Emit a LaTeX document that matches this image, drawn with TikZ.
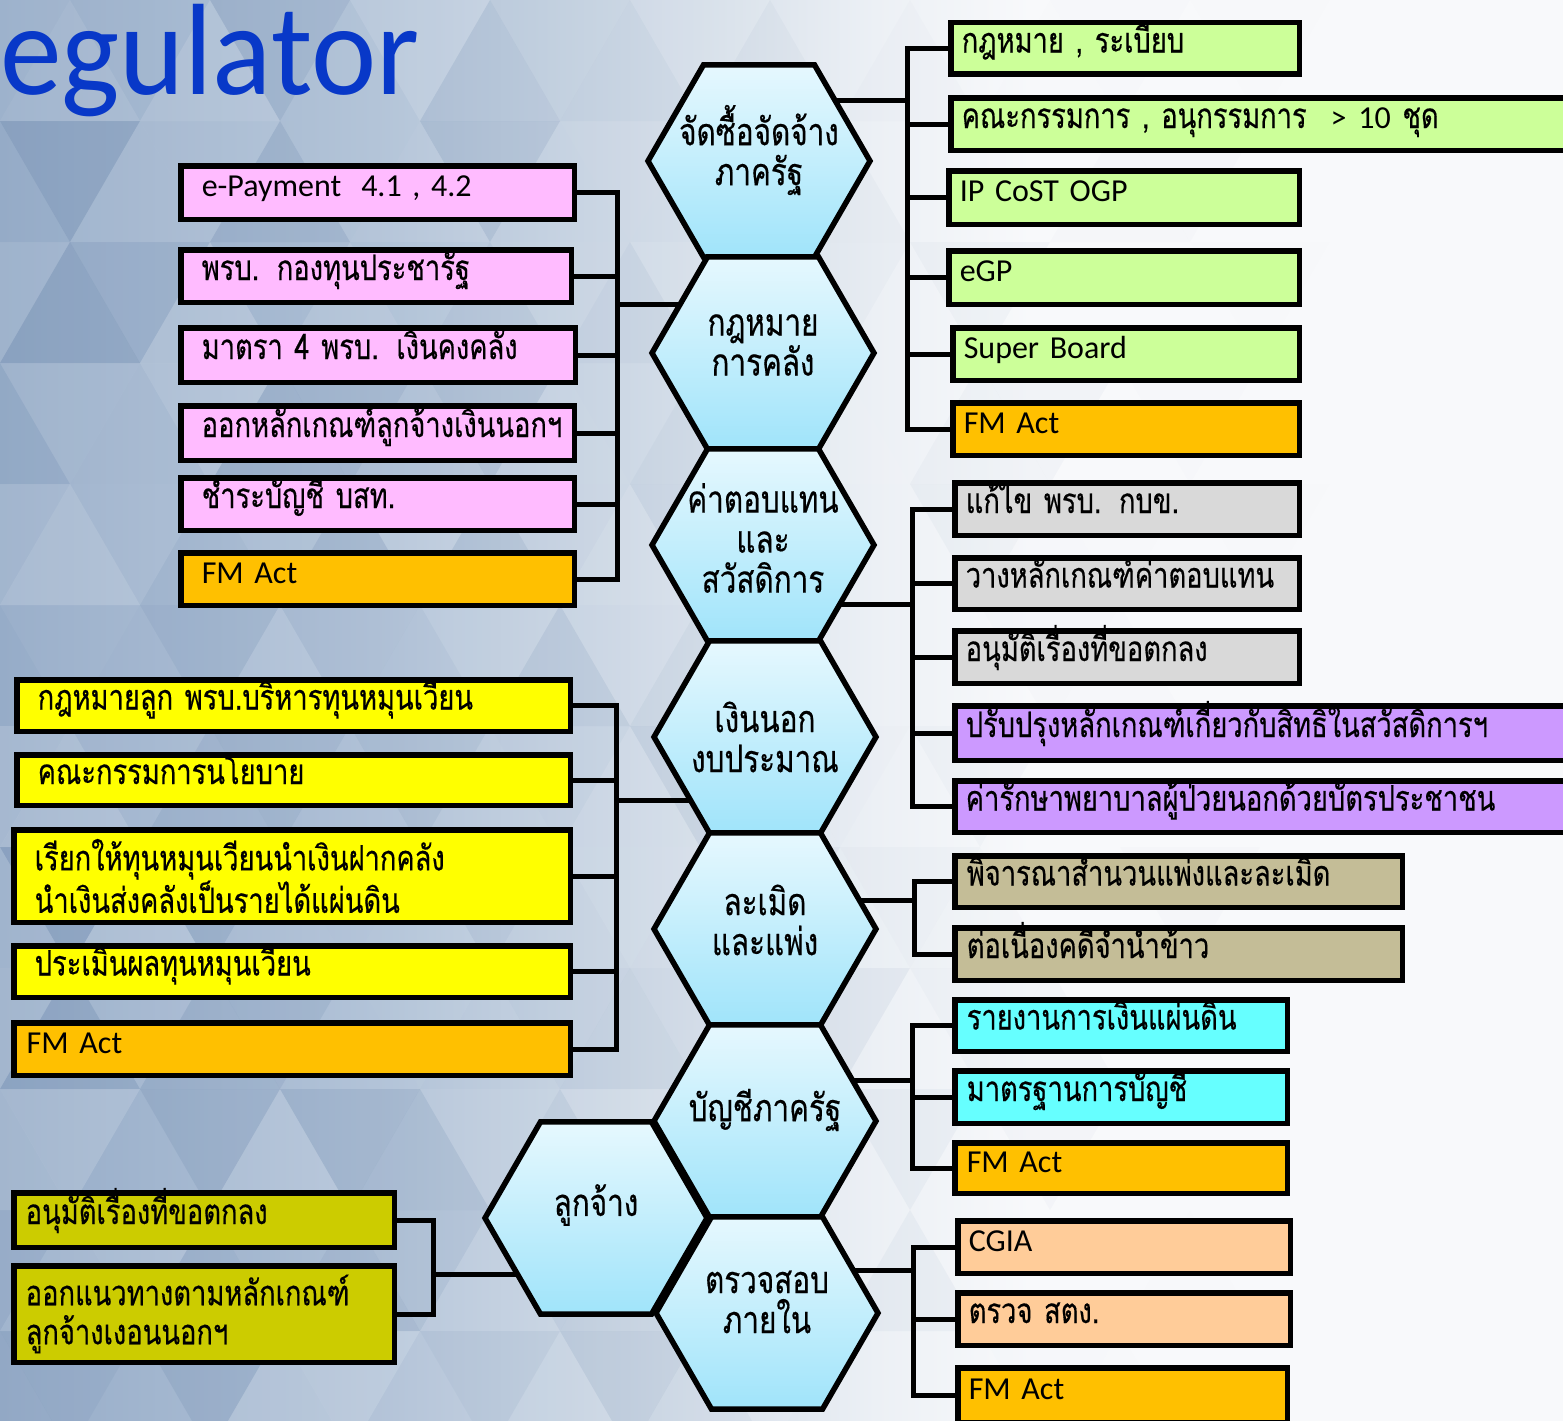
\documentclass[tikz,border=0pt]{standalone}
\usepackage{fontspec}
\setmainfont{Loma}[Script=Thai, FakeStretch=0.78, FakeBold=0.4]
\newfontfamily\latin{Carlito}
\newfontfamily\titlefont{Carlito}[FakeStretch=0.95]
\usetikzlibrary{shapes.geometric}

\definecolor{titleblue}{RGB}{8,56,200}
\definecolor{hextop}{RGB}{230,248,254}
\definecolor{hexbot}{RGB}{160,228,250}
\definecolor{cpink}{RGB}{255,187,255}
\definecolor{cgreen}{RGB}{204,255,153}
\definecolor{corange}{RGB}{255,192,0}
\definecolor{cgrey}{RGB}{217,217,217}
\definecolor{cpurple}{RGB}{204,153,255}
\definecolor{ctan}{RGB}{196,189,151}
\definecolor{ccyan}{RGB}{102,255,255}
\definecolor{cpeach}{RGB}{255,204,153}
\definecolor{cyellow}{RGB}{255,255,0}
\definecolor{colive}{RGB}{204,204,0}
\definecolor{bgA}{RGB}{150,172,200}
\definecolor{bgB}{RGB}{178,195,216}
\definecolor{bgC}{RGB}{205,216,229}
\definecolor{bgD}{RGB}{236,240,245}
\definecolor{bgW}{RGB}{248,249,251}
\definecolor{bgdark}{RGB}{90,120,160}

\pgfdeclarehorizontalshading{backdrop}{100bp}{color(0bp)=(bgA); color(25bp)=(bgA); color(37bp)=(bgB); color(45bp)=(bgC); color(53bp)=(bgD); color(58bp)=(bgW); color(100bp)=(bgW)}

\pgfdeclarelayer{backdrop}
\pgfdeclarelayer{wires}
\pgfsetlayers{backdrop,wires,main}

\newcommand\thaibox{\fontsize{35}{39}\selectfont}
\newcommand\latbox{\latin\fontsize{32}{38}\selectfont}
\newcommand\hexlab{\fontsize{38}{40}\selectfont}

% box: style, name, fill, text inset, x1, y1, x2, y2 (outer edges, px), text
\newcommand\tbox[9]{%
  \node[#1, fill=#3, inner xsep=#4pt,
        minimum width={(#7-#5-5.5)*1pt}, minimum height={(#8-#6-5.5)*1pt},
        text width={(#7-#5-5.5-2*#4)*1pt}] (#2) at ({(#5+#7)/2},{(#6+#8)/2}) {#9};}

\tikzset{
  tb/.style={rectangle, draw=black, line width=5.5pt, inner ysep=0pt,
             align=left, font=\thaibox, text height=22pt, text depth=14pt},
  tbl/.style={tb, font=\latbox},
  tbm/.style={rectangle, draw=black, line width=5.5pt, inner ysep=0pt,
              align=left, font=\thaibox},
  hexa/.style={regular polygon, regular polygon sides=6, minimum size=222pt, inner sep=0pt,
               draw=black, line width=5.5pt, top color=hextop, bottom color=hexbot},
  hlabel/.style={align=center, font=\hexlab, inner sep=0pt},
  wire/.style={draw=black, line width=5pt},
}

\begin{document}
\begin{tikzpicture}[x=1pt,y=-1pt]
\useasboundingbox (0,0) rectangle (1563,1421);

% faceted backdrop
\begin{pgfonlayer}{backdrop}
  \shade[shading=backdrop] (0,0) rectangle (1563,1421);
  \pgfmathsetseed{42}
  \foreach \r in {0,...,11}{
    \foreach \c in {-1,...,11}{
      \pgfmathsetmacro\xa{\c*140 + mod(\r,2)*70}
      \pgfmathsetmacro\ya{\r*121}
      \pgfmathsetmacro\fade{max(0,1-\xa/1150)}
      \pgfmathsetmacro\opa{0.2*rnd*\fade}
      \pgfmathsetmacro\opb{0.2*rnd*\fade}
      \pgfmathtruncatemacro\ca{rnd>0.5}
      \pgfmathtruncatemacro\cb{rnd>0.5}
      \ifnum\ca=1 \def\tca{white}\else\def\tca{bgdark}\fi
      \ifnum\cb=1 \def\tcb{white}\else\def\tcb{bgdark}\fi
      \fill[\tca, fill opacity=\opa] (\xa,{\ya+121}) -- ({\xa+70},\ya) -- ({\xa+140},{\ya+121}) -- cycle;
      \fill[\tcb, fill opacity=\opb] ({\xa+70},\ya) -- ({\xa+210},\ya) -- ({\xa+140},{\ya+121}) -- cycle;
    }
  }
\end{pgfonlayer}

% title
\node[font=\titlefont\fontsize{130}{130}\selectfont, text=titleblue, anchor=base west, inner sep=0pt]
  (title) at (0,95) {egulator};

% hexagon cluster (side hexagon first, so the column overlaps it)
\node[hexa] (hL) at (596,1218) {};
\node[hexa] (h1) at (759,161) {};
\node[hexa] (h2) at (763,353) {};
\node[hexa] (h3) at (763,545) {};
\node[hexa] (h4) at (765,737) {};
\node[hexa] (h5) at (765,929) {};
\node[hexa] (h6) at (765,1121) {};
\node[hexa] (h7) at (767,1313) {};

\node[hlabel] (h1t) at ([yshift=11pt]h1.center) {จัดซื้อจัดจ้าง\\ภาครัฐ};
\node[hlabel] (h2t) at ([yshift=8pt]h2.center) {กฎหมาย\\การคลัง};
\node[hlabel] (h3t) at ([yshift=7pt]h3.center) {ค่าตอบแทน\\และ\\สวัสดิการ};
\node[hlabel] (h4t) at ([yshift=0pt]h4.center) {เงินนอก\\งบประมาณ};
\node[hlabel] (h5t) at ([yshift=9pt]h5.center) {ละเมิด\\และแพ่ง};
\node[hlabel] (h6t) at ([yshift=11pt]h6.center) {บัญชีภาครัฐ};
\node[hlabel] (hLt) at ([yshift=13pt]hL.center) {ลูกจ้าง};
\node[hlabel] (h7t) at ([yshift=11pt]h7.center) {ตรวจสอบ\\ภายใน};

% left: pink group
\tbox{tbl}{p1}{cpink}{21}{178}{163}{577}{222}{e-Payment\hspace{20pt}4.1 , 4.2}
\tbox{tb}{p2}{cpink}{21}{178}{247}{574}{305}{พรบ. กองทุนประชารัฐ}
\tbox{tb}{p3}{cpink}{21}{178}{325}{578}{385}{มาตรา 4 พรบ. เงินคงคลัง}
\tbox{tb}{p4}{cpink}{21}{178}{403}{577}{463}{ออกหลักเกณฑ์ลูกจ้างเงินนอกฯ}
\tbox{tb}{p5}{cpink}{21}{178}{475}{577}{533}{ชำระบัญชี บสท.}
\tbox{tbl}{p6}{corange}{21}{178}{550}{577}{608}{FM Act}

% left: yellow group
\tbox{tb}{y1}{cyellow}{21}{14}{677}{573}{734}{กฎหมายลูก พรบ.บริหารทุนหมุนเวียน}
\tbox{tb}{y2}{cyellow}{21}{14}{752}{573}{808}{คณะกรรมการนโยบาย}
\tbox{tbm}{y3}{cyellow}{21}{11}{827}{573}{925}{เรียกให้ทุนหมุนเวียนนำเงินฝากคลัง\\นำเงินส่งคลังเป็นรายได้แผ่นดิน}
\tbox{tb}{y4}{cyellow}{21}{11}{943}{573}{1000}{ประเมินผลทุนหมุนเวียน}
\tbox{tbl}{y5}{corange}{13}{11}{1020}{573}{1078}{FM Act}

% left: olive group
\tbox{tb}{o1}{colive}{12}{11}{1190}{397}{1250}{อนุมัติเรื่องที่ขอตกลง}
\tbox{tbm}{o2}{colive}{12}{11}{1263}{397}{1365}{ออกแนวทางตามหลักเกณฑ์\\ลูกจ้างเงอนนอกฯ}

% right: procurement group
\tbox{tb}{g1}{cgreen}{11}{948}{20}{1302}{77}{กฎหมาย , ระเบียบ}
\tbox{tb}{g2}{cgreen}{11}{948}{95}{1572}{153}{คณะกรรมการ , อนุกรรมการ\hspace{24pt}{\latin\fontsize{32}{38}\selectfont > 10} ชุด}
\tbox{tbl}{g3}{cgreen}{11}{946}{168}{1302}{227}{IP CoST OGP}
\tbox{tbl}{g4}{cgreen}{11}{946}{248}{1302}{307}{eGP}
\tbox{tbl}{g5}{cgreen}{11}{950}{325}{1302}{383}{Super Board}
\tbox{tbl}{g6}{corange}{11}{950}{400}{1302}{458}{FM Act}

% right: compensation group
\tbox{tb}{w1}{cgrey}{11}{952}{480}{1302}{538}{แก้ไข พรบ. กบข.}
\tbox{tb}{w2}{cgrey}{11}{952}{555}{1302}{612}{วางหลักเกณฑ์ค่าตอบแทน}
\tbox{tb}{w3}{cgrey}{11}{952}{628}{1302}{686}{อนุมัติเรื่องที่ขอตกลง}
\tbox{tb}{w4}{cpurple}{11}{952}{703}{1572}{763}{ปรับปรุงหลักเกณฑ์เกี่ยวกับสิทธิในสวัสดิการฯ}
\tbox{tb}{w5}{cpurple}{11}{952}{778}{1572}{835}{ค่ารักษาพยาบาลผู้ป่วยนอกด้วยบัตรประชาชน}

% right: tort group
\tbox{tb}{t1}{ctan}{12}{952}{853}{1405}{910}{พิจารณาสำนวนแพ่งและละเมิด}
\tbox{tb}{t2}{ctan}{12}{952}{925}{1405}{983}{ต่อเนื่องคดีจำนำข้าว}

% right: accounting group
\tbox{tb}{c1}{ccyan}{12}{952}{997}{1290}{1054}{รายงานการเงินแผ่นดิน}
\tbox{tb}{c2}{ccyan}{12}{952}{1068}{1290}{1126}{มาตรฐานการบัญชี}
\tbox{tbl}{c3}{corange}{12}{952}{1140}{1290}{1196}{FM Act}

% right: internal audit group
\tbox{tbl}{a1}{cpeach}{11}{955}{1218}{1293}{1276}{CGIA}
\tbox{tb}{a2}{cpeach}{11}{955}{1290}{1293}{1348}{ตรวจ สตง.}
\tbox{tbl}{a3}{corange}{11}{955}{1365}{1290}{1425}{FM Act}

% bus junctions
\coordinate (bp) at (617,304);
\coordinate (by) at (616,800);
\coordinate (bo) at (433,1274);
\coordinate (b1) at (907,100);
\coordinate (b2) at (912,604);
\coordinate (b3) at (914,900);
\coordinate (b4) at (912,1080);
\coordinate (b5) at (913,1270);

\begin{pgfonlayer}{wires}
  % pink group -> fiscal law
  \draw[wire] (bp) -- (h2.center |- bp);
  \draw[wire] (p1.east) -- (p1.east -| bp) -- (p6.east -| bp) -- (p6.east);
  \foreach \n in {p2,p3,p4,p5} \draw[wire] (\n.east) -- (\n.east -| bp);
  % yellow group -> off-budget money
  \draw[wire] (by) -- (h4.center |- by);
  \draw[wire] (y1.east) -- (y1.east -| by) -- (y5.east -| by) -- (y5.east);
  \foreach \n in {y2,y3,y4} \draw[wire] (\n.east) -- (\n.east -| by);
  % olive group -> employees
  \draw[wire] (bo) -- (hL.center |- bo);
  \draw[wire] (o1.east) -- (o1.east -| bo) -- (o2.east -| bo) -- (o2.east);
  % procurement
  \draw[wire] (h1.center |- b1) -- (b1);
  \draw[wire] (g1.west) -- (g1.west -| b1) -- (g6.west -| b1) -- (g6.west);
  \foreach \n in {g2,g3,g4,g5} \draw[wire] (\n.west) -- (\n.west -| b1);
  % compensation
  \draw[wire] (h3.center |- b2) -- (b2);
  \draw[wire] (w1.west) -- (w1.west -| b2) -- (w5.west -| b2) -- (w5.west);
  \foreach \n in {w2,w3,w4} \draw[wire] (\n.west) -- (\n.west -| b2);
  % tort
  \draw[wire] (h5.center |- b3) -- (b3);
  \draw[wire] (t1.west) -- (t1.west -| b3) -- (t2.west -| b3) -- (t2.west);
  % accounting
  \draw[wire] (h6.center |- b4) -- (b4);
  \draw[wire] (c1.west) -- (c1.west -| b4) -- (c3.west -| b4) -- (c3.west);
  \draw[wire] (c2.west) -- (c2.west -| b4);
  % internal audit
  \draw[wire] (h7.center |- b5) -- (b5);
  \draw[wire] (a1.west) -- (a1.west -| b5) -- (a3.west -| b5) -- (a3.west);
  \draw[wire] (a2.west) -- (a2.west -| b5);
\end{pgfonlayer}
\end{tikzpicture}
\end{document}
